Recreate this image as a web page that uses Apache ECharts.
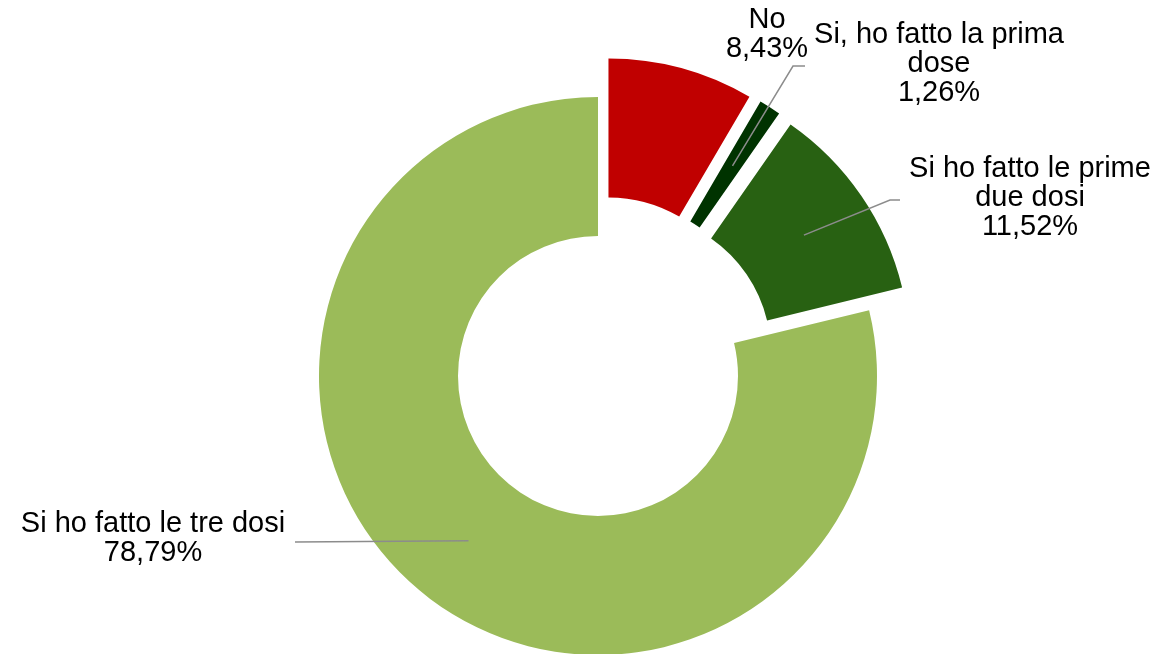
<!DOCTYPE html>
<html>
<head>
<meta charset="utf-8">
<script src="https://cdn.jsdelivr.net/npm/echarts@6/dist/echarts.min.js"></script>
<style>
  html, body { margin: 0; padding: 0; background: #fff; }
  #chart { width: 1159px; height: 654px; }
</style>
</head>
<body>
<div id="chart"></div>
<script>
// data
const names = ['No', 'Si, ho fatto la prima\ndose', 'Si ho fatto le prime\ndue dosi', 'Si ho fatto le tre dosi'];
const values = [8.43, 1.26, 11.52, 78.79];
const colors = ['#C00000', '#003300', '#286112', '#9BBB59'];
const exploded = [true, true, true, false];

// label placement: [centerX, centerY, lineEndX, lineEndY, elbowX] (no line if lineEndX is null)
const labelPos = [
  [767, 34, null],
  [939, 64, 805, 66, 793],
  [1030, 198, 900, 200, 890],
  [153, 538, 295, 542, 295]
];

const CX = 598, CY = 376, R0 = 140, R1 = 279, OFFSET = 40;

const total = values.reduce((a, b) => a + b, 0);
const midAngles = [];
let acc = 0;
values.forEach((v) => {
  midAngles.push(((acc + v / 2) / total) * 2 * Math.PI);
  acc += v;
});

const fmtPct = (v) => v.toFixed(2).replace('.', ',') + '%';

const chart = echarts.init(document.getElementById('chart'));

chart.setOption({
  animation: false,
  series: [
    {
      type: 'pie',
      center: [CX, CY],
      radius: [R0, R1],
      startAngle: 90,
      clockwise: true,
      selectedMode: 'multiple',
      selectedOffset: OFFSET,
      avoidLabelOverlap: false,
      label: {
        show: true,
        position: 'outside',
        formatter: (p) => (p.name + '\n' + fmtPct(p.value))
          .split('\n')
          .map((line) => '{c|' + line + '}')
          .join('\n'),
        rich: {
          c: {
            width: 270,
            align: 'center',
            color: '#000',
            fontFamily: 'Liberation Sans, Arial, sans-serif',
            fontSize: 29,
            lineHeight: 29
          }
        }
      },
      labelLine: {
        show: true,
        showAbove: true,
        lineStyle: { color: '#8C8C8C', width: 1.5 }
      },
      labelLayout: (params) => {
        const i = params.dataIndex;
        const pos = labelPos[i];
        const rect = params.labelRect;
        const a = midAngles[i];
        // selected slices carry their label and guide line along with the offset
        const ox = exploded[i] ? OFFSET * Math.sin(a) : 0;
        const oy = exploded[i] ? -OFFSET * Math.cos(a) : 0;
        const out = {
          dx: pos[0] - ox - (rect.x + rect.width / 2),
          dy: pos[1] - oy - (rect.y + rect.height / 2)
        };
        if (pos[2] != null) {
          const rm = (R0 + R1) / 2;
          const sx = CX + rm * Math.sin(a);
          const sy = CY - rm * Math.cos(a);
          out.labelLinePoints = [[sx, sy], [pos[4] - ox, pos[3] - oy], [pos[2] - ox, pos[3] - oy]];
        }
        return out;
      },
      emphasis: { disabled: true },
      data: names.map((n, i) => ({
        name: n,
        value: values[i],
        selected: exploded[i],
        itemStyle: { color: colors[i] },
        select: { itemStyle: { color: colors[i] } },
        labelLine: { show: labelPos[i][2] != null }
      }))
    }
  ]
});

// selected sectors get lifted in z2, which hides the guide lines under them; put lines back on top
const pieData = chart.getModel().getSeriesByIndex(0).getData();
pieData.each((idx) => {
  const el = pieData.getItemGraphicEl(idx);
  const guide = el && el.getTextGuideLine();
  if (guide) guide.attr('z2', 100);
});
chart.getZr().refresh();

window.addEventListener('resize', () => chart.resize());
</script>
</body>
</html>
